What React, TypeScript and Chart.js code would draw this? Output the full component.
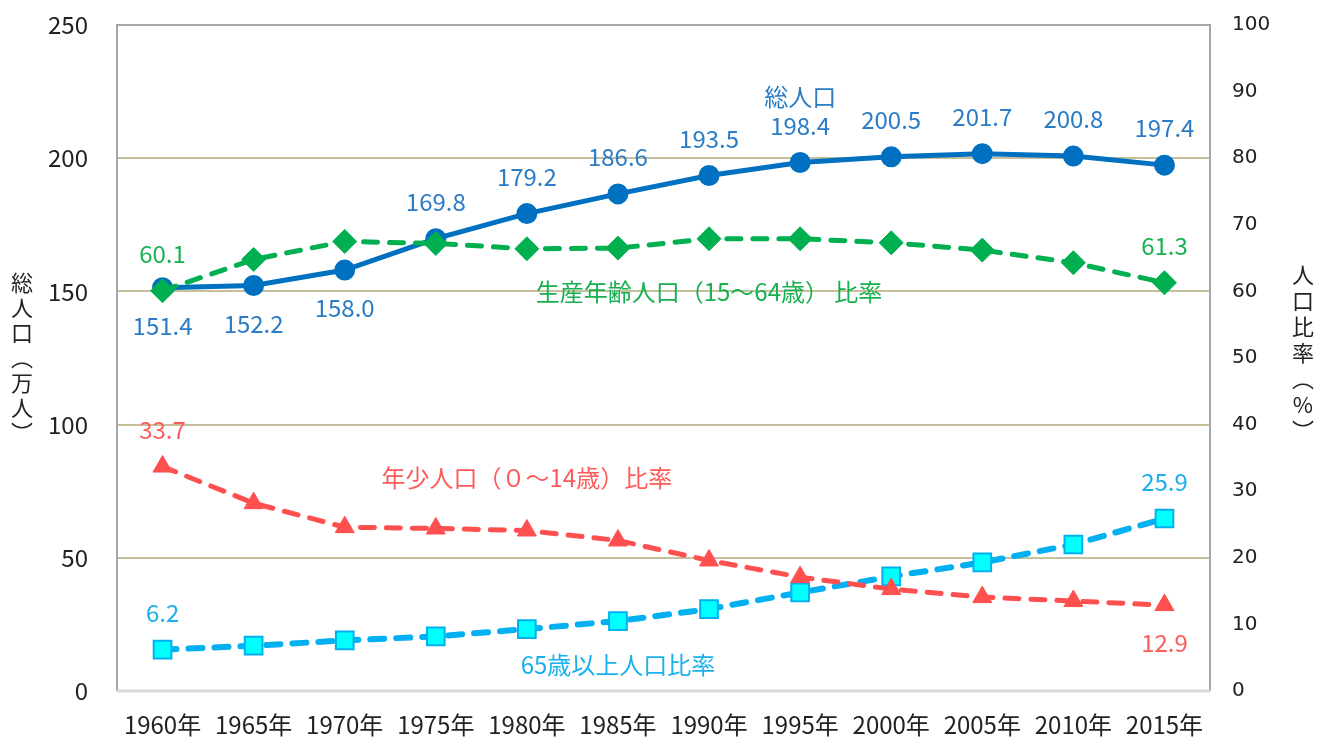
import React, { useEffect, useRef } from "react";
import { Chart, registerables } from "chart.js";

Chart.register(...registerables);

const categories = ["1960年", "1965年", "1970年", "1975年", "1980年", "1985年", "1990年", "1995年", "2000年", "2005年", "2010年", "2015年"];
const totalPopulation = [151.4, 152.2, 158.0, 169.8, 179.2, 186.6, 193.5, 198.4, 200.5, 201.7, 200.8, 197.4];
const workingAgeRatio = [60.1, 64.8, 67.5, 67.2, 66.4, 66.5, 67.9, 67.9, 67.3, 66.2, 64.3, 61.3];
const youthRatio = [33.7, 28.2, 24.6, 24.4, 24.1, 22.6, 19.6, 17.1, 15.3, 14.1, 13.5, 12.9];
const elderlyRatio = [6.2, 6.8, 7.6, 8.2, 9.3, 10.5, 12.3, 14.8, 17.2, 19.3, 22.0, 25.9];

const seriesNames = ["総人口", "生産年齢人口（15〜64歳） 比率", "年少人口（０〜14歳）比率", "65歳以上人口比率"];
const leftAxisTitle = ["総", "人", "口", "︵", "万", "人", "︶"];
const rightAxisTitle = ["人", "口", "比", "率", "︵", "%", "︶"];

// which points get value labels, and which of them sit below the point
const labelIndices = [
  [0, 1, 2, 3, 4, 5, 6, 7, 8, 9, 10, 11],
  [0, 11],
  [0, 11],
  [0, 11],
];
const labelsBelow = [[0, 1, 2], [], [11], []];

// series name anchors: category index and value on that series' axis
const nameAnchors = [
  { index: 7, value: 223 },
  { index: 6, value: 59.9 },
  { index: 4, value: 32 },
  { index: 5, value: 3.9 },
];

const LINE_COLORS = ["#0070c0", "#00b050", "#ff5050", "#00b0f0"];
const TEXT_COLORS = ["#2a7cc6", "#18b050", "#ff5a5a", "#1ab0ec"];
const JP = '"Noto Sans CJK JP", "Noto Sans", sans-serif';

const overlayPlugin = {
  id: "overlay",
  beforeDatasetsDraw(chart: any) {
    const { ctx, chartArea: a } = chart;
    ctx.save();
    ctx.lineWidth = 2;
    ctx.strokeStyle = "#a6a6a6";
    ctx.beginPath();
    ctx.moveTo(a.left, a.bottom);
    ctx.lineTo(a.left, a.top);
    ctx.lineTo(a.right, a.top);
    ctx.lineTo(a.right, a.bottom);
    ctx.stroke();
    ctx.strokeStyle = "#d9d9d9";
    ctx.lineWidth = 3;
    ctx.beginPath();
    ctx.moveTo(a.left, a.bottom);
    ctx.lineTo(a.right, a.bottom);
    ctx.stroke();
    ctx.restore();
  },
  afterDatasetsDraw(chart: any) {
    const { ctx, chartArea: a } = chart;
    ctx.save();
    ctx.textAlign = "center";
    ctx.textBaseline = "middle";
    ctx.font = `24px ${JP}`;
    chart.data.datasets.forEach((ds: any, di: number) => {
      const meta = chart.getDatasetMeta(di);
      labelIndices[di].forEach((i) => {
        const el = meta.data[i];
        if (!el) return;
        const below = labelsBelow[di].includes(i);
        ctx.fillStyle = TEXT_COLORS[di];
        ctx.fillText(ds.data[i].toFixed(1), el.x, el.y + (below ? 38 : -37));
      });
      const anchor = nameAnchors[di];
      const x = chart.scales.x.getPixelForValue(anchor.index);
      const y = chart.scales[ds.yAxisID].getPixelForValue(anchor.value);
      ctx.fillStyle = TEXT_COLORS[di];
      ctx.fillText(seriesNames[di], x, y);
    });
    // vertical axis titles
    ctx.fillStyle = "#222";
    ctx.font = `22px ${JP}`;
    const mid = (a.top + a.bottom) / 2;
    leftAxisTitle.forEach((ch, k) => {
      ctx.fillText(ch, 22, mid - 75 + k * 25);
    });
    rightAxisTitle.forEach((ch, k) => {
      ctx.fillText(ch, 1303, mid - 83 + k * 26);
    });
    ctx.restore();
  },
};

function fixVertical(width: number) {
  return (scale: any) => {
    scale.width = width;
    scale.paddingTop = 0;
    scale.paddingBottom = 0;
  };
}

export default function App() {
  const ref = useRef<HTMLCanvasElement | null>(null);
  useEffect(() => {
    if (!ref.current) return;
    const dash = [14, 12];
    const chart = new Chart(ref.current, {
      type: "line",
      data: {
        labels: categories,
        datasets: [
          {
            label: seriesNames[0],
            data: totalPopulation,
            yAxisID: "y",
            borderColor: LINE_COLORS[0],
            backgroundColor: LINE_COLORS[0],
            borderWidth: 5,
            pointStyle: "circle",
            pointRadius: 9.5,
            pointBorderWidth: 2,
            pointBorderColor: LINE_COLORS[0],
            pointBackgroundColor: LINE_COLORS[0],
            tension: 0,
            order: 4,
          },
          {
            label: seriesNames[1],
            data: workingAgeRatio,
            yAxisID: "y2",
            borderColor: LINE_COLORS[1],
            backgroundColor: LINE_COLORS[1],
            borderWidth: 5,
            borderDash: dash,
            borderCapStyle: "round",
            pointStyle: "rectRot",
            pointRadius: 12,
            pointBorderWidth: 1,
            pointBorderColor: LINE_COLORS[1],
            pointBackgroundColor: LINE_COLORS[1],
            tension: 0,
            order: 1,
          },
          {
            label: seriesNames[2],
            data: youthRatio,
            yAxisID: "y2",
            borderColor: LINE_COLORS[2],
            backgroundColor: LINE_COLORS[2],
            borderWidth: 5,
            borderDash: dash,
            borderCapStyle: "round",
            pointStyle: "triangle",
            pointRadius: 11,
            pointBorderWidth: 1,
            pointBorderColor: LINE_COLORS[2],
            pointBackgroundColor: LINE_COLORS[2],
            tension: 0,
            order: 2,
          },
          {
            label: seriesNames[3],
            data: elderlyRatio,
            yAxisID: "y2",
            borderColor: LINE_COLORS[3],
            backgroundColor: "#00ffff",
            borderWidth: 6,
            borderDash: dash,
            borderCapStyle: "round",
            pointStyle: "rect",
            pointRadius: 12.5,
            pointBorderWidth: 2,
            pointBorderColor: LINE_COLORS[3],
            pointBackgroundColor: "#00ffff",
            tension: 0,
            order: 3,
          },
        ],
      },
      options: {
        responsive: false,
        animation: false,
        layout: { padding: { top: 25, left: 0, right: 0, bottom: 0 } },
        plugins: { legend: { display: false }, tooltip: { enabled: false } },
        scales: {
          x: {
            type: "category",
            offset: true,
            grid: { display: false, drawTicks: false },
            border: { display: false },
            ticks: {
              color: "#222",
              font: { family: JP, size: 24 },
              padding: 19,
              maxRotation: 0,
              autoSkip: false,
            },
            afterFit(scale: any) {
              scale.height = 47;
              scale.paddingLeft = 0;
              scale.paddingRight = 0;
            },
          },
          y: {
            position: "left",
            min: 0,
            max: 250,
            grid: {
              drawTicks: false,
              lineWidth: 2,
              color: (c: any) => (c.tick && (c.tick.value === 0 || c.tick.value === 250) ? "rgba(0,0,0,0)" : "#c8c09c"),
            },
            border: { display: false },
            ticks: {
              stepSize: 50,
              color: "#222",
              font: { family: JP, size: 24 },
              padding: 29,
            },
            afterFit: fixVertical(117),
          },
          y2: {
            position: "right",
            min: 0,
            max: 100,
            grid: { drawOnChartArea: false, drawTicks: false },
            border: { display: false },
            ticks: {
              stepSize: 10,
              color: "#222",
              font: { family: '"DejaVu Sans", sans-serif', size: 20 },
              padding: 22,
            },
            afterFit: fixVertical(111),
          },
        },
      },
      plugins: [overlayPlugin],
    } as any);
    return () => chart.destroy();
  }, []);
  return (
    <div style={{ position: "absolute", left: 0, top: 0, width: 1321, height: 738, background: "#fff" }}>
      <canvas ref={ref} width={1321} height={738} />
    </div>
  );
}
